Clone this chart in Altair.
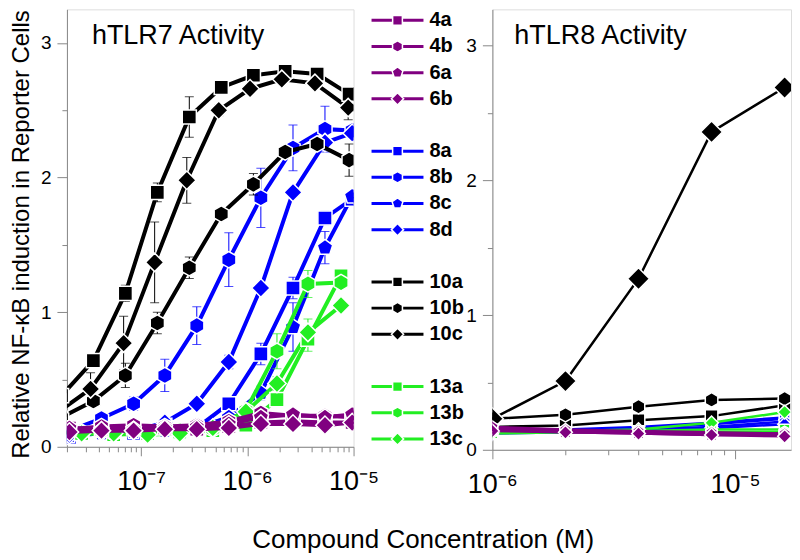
import altair as alt
import pandas as pd

# ---------------- data ----------------
SERIES = ["4a", "4b", "6a", "6b", "8a", "8b", "8c", "8d",
          "10a", "10b", "10c", "13a", "13b", "13c"]
GROUP_OF = {"4a": "purple", "4b": "purple", "6a": "purple", "6b": "purple",
            "8a": "blue", "8b": "blue", "8c": "blue", "8d": "blue",
            "10a": "black", "10b": "black", "10c": "black",
            "13a": "green", "13b": "green", "13c": "green"}
LEGEND_SLOT = [0, 1, 2, 3, 5, 6, 7, 8, 10, 11, 12, 14, 15, 16]

# concentrations (M) of the hTLR7 dilution series
conc_black = [1.78e-8, 3.55e-8, 7.1e-8, 1.42e-7, 2.84e-7, 5.68e-7, 1.14e-6, 2.27e-6, 4.54e-6, 9.08e-6]
conc_10c = [1.67e-8, 3.34e-8, 6.84e-8, 1.34e-7, 2.69e-7, 5.38e-7, 1.06e-6, 2.11e-6, 4.33e-6, 8.9e-6]
conc_blue = [2.11e-8, 4.23e-8, 8.49e-8, 1.67e-7, 3.34e-7, 6.69e-7, 1.34e-6, 2.69e-6, 5.38e-6, 9.7e-6]
conc_green = [1.37e-8, 2.75e-8, 5.51e-8, 1.15e-7, 2.31e-7, 4.73e-7, 9.68e-7, 1.90e-6, 3.72e-6, 7.62e-6]
conc_tlr8 = [1e-6, 2e-6, 4e-6, 8e-6, 1.6e-5]

tlr7_4a = [0.14, 0.13, 0.14, 0.14, 0.13, 0.15, 0.18, 0.19, 0.18, 0.18]
tlr7_4b = [0.13, 0.15, 0.16, 0.15, 0.16, 0.19, 0.25, 0.23, 0.23, 0.22]
tlr7_6a = [0.14, 0.12, 0.13, 0.14, 0.15, 0.17, 0.22, 0.24, 0.22, 0.24]
tlr7_6b = [0.11, 0.12, 0.12, 0.13, 0.13, 0.14, 0.17, 0.17, 0.16, 0.18]
tlr7_8a = [0.07, 0.13, 0.10, 0.16, 0.14, 0.32, 0.69, 1.18, 1.70, 1.84]
tlr7_8b = [0.12, 0.21, 0.32, 0.53, 0.90, 1.39, 1.85, 2.22, 2.36, 2.35]
tlr7_8c = [0.08, 0.10, 0.11, 0.12, 0.14, 0.22, 0.40, 0.89, 1.48, 1.86]
tlr7_8d = [0.09, 0.11, 0.12, 0.18, 0.32, 0.63, 1.18, 1.89, 2.26, 2.33]
tlr7_10a = [0.38, 0.64, 1.14, 1.89, 2.45, 2.67, 2.76, 2.79, 2.77, 2.62]
tlr7_10b = [0.22, 0.34, 0.53, 0.92, 1.33, 1.73, 1.95, 2.19, 2.25, 2.13]
tlr7_10c = [0.26, 0.43, 0.77, 1.37, 1.98, 2.50, 2.66, 2.73, 2.70, 2.52]
tlr7_13a = [0.10, 0.10, 0.09, 0.10, 0.11, 0.12, 0.16, 0.35, 0.80, 1.27]
tlr7_13b = [0.11, 0.11, 0.10, 0.11, 0.12, 0.13, 0.27, 0.71, 1.21, 1.22]
tlr7_13c = [0.10, 0.10, 0.10, 0.09, 0.10, 0.14, 0.26, 0.47, 0.85, 1.05]

err_none = [0, 0, 0, 0, 0, 0, 0, 0, 0, 0]
err_8a = [0, 0, 0, 0, 0, 0.03, 0.08, 0.08, 0.05, 0]
err_8b = [0, 0.04, 0.05, 0.12, 0.14, 0.20, 0.22, 0.17, 0.17, 0]
err_8c = [0, 0, 0, 0, 0, 0, 0.05, 0.18, 0.12, 0]
err_8d = [0, 0, 0, 0.02, 0.03, 0.05, 0.03, 0, 0, 0]
err_10a = [0, 0.02, 0.06, 0.07, 0.15, 0.03, 0.02, 0.02, 0.02, 0]
err_10b = [0, 0.03, 0.09, 0.08, 0.08, 0.03, 0.08, 0.02, 0, 0.12]
err_10c = [0, 0.12, 0.20, 0.30, 0.17, 0.04, 0.03, 0.02, 0.02, 0.09]
err_13a = [0, 0, 0, 0, 0, 0, 0, 0.04, 0.09, 0.05]
err_13b = [0, 0, 0, 0, 0, 0, 0, 0.13, 0.10, 0.04]
err_13c = [0, 0, 0, 0, 0, 0, 0, 0.05, 0.10, 0]

tlr8_4a = [0.15, 0.13, 0.12, 0.11, 0.11]
tlr8_4b = [0.16, 0.14, 0.13, 0.12, 0.12]
tlr8_6a = [0.17, 0.15, 0.14, 0.13, 0.12]
tlr8_6b = [0.14, 0.13, 0.12, 0.11, 0.10]
tlr8_8a = [0.13, 0.14, 0.16, 0.19, 0.23]
tlr8_8b = [0.14, 0.15, 0.17, 0.20, 0.24]
tlr8_8c = [0.13, 0.14, 0.15, 0.17, 0.21]
tlr8_8d = [0.12, 0.13, 0.14, 0.16, 0.19]
tlr8_10a = [0.17, 0.18, 0.22, 0.25, 0.33]
tlr8_10b = [0.23, 0.26, 0.32, 0.37, 0.38]
tlr8_10c = [0.23, 0.51, 1.27, 2.36, 2.69]
tlr8_13a = [0.12, 0.13, 0.14, 0.15, 0.15]
tlr8_13b = [0.13, 0.14, 0.14, 0.13, 0.13]
tlr8_13c = [0.13, 0.14, 0.15, 0.20, 0.28]

left_x_ticks = [2e-8, 3e-8, 4e-8, 5e-8, 6e-8, 7e-8, 8e-8, 9e-8,
                1e-7, 2e-7, 3e-7, 4e-7, 5e-7, 6e-7, 7e-7, 8e-7, 9e-7,
                1e-6, 2e-6, 3e-6, 4e-6, 5e-6, 6e-6, 7e-6, 8e-6, 9e-6, 1e-5]
right_x_ticks = [1e-6, 2e-6, 3e-6, 4e-6, 5e-6, 6e-6, 7e-6, 8e-6, 9e-6, 1e-5]
y_ticks = [0, 0.5, 1, 1.5, 2, 2.5, 3]

TLR7 = {"4a": tlr7_4a, "4b": tlr7_4b, "6a": tlr7_6a, "6b": tlr7_6b,
        "8a": tlr7_8a, "8b": tlr7_8b, "8c": tlr7_8c, "8d": tlr7_8d,
        "10a": tlr7_10a, "10b": tlr7_10b, "10c": tlr7_10c,
        "13a": tlr7_13a, "13b": tlr7_13b, "13c": tlr7_13c}
TLR7_ERR = {"4a": err_none, "4b": err_none, "6a": err_none, "6b": err_none,
            "8a": err_8a, "8b": err_8b, "8c": err_8c, "8d": err_8d,
            "10a": err_10a, "10b": err_10b, "10c": err_10c,
            "13a": err_13a, "13b": err_13b, "13c": err_13c}
TLR7_CONC = {"purple": conc_blue, "blue": conc_blue, "black": conc_black, "green": conc_green}
TLR8 = {"4a": tlr8_4a, "4b": tlr8_4b, "6a": tlr8_6a, "6b": tlr8_6b,
        "8a": tlr8_8a, "8b": tlr8_8b, "8c": tlr8_8c, "8d": tlr8_8d,
        "10a": tlr8_10a, "10b": tlr8_10b, "10c": tlr8_10c,
        "13a": tlr8_13a, "13b": tlr8_13b, "13c": tlr8_13c}

# ---------------- style ----------------
COLOR = {"purple": "#800080", "blue": "#0000ff", "black": "#000000", "green": "#22ee22"}
HEX = "M0,-1L0.866,-0.5L0.866,0.5L0,1L-0.866,0.5L-0.866,-0.5Z"
PENT = "M0,-1L0.951,-0.309L0.588,0.809L-0.588,0.809L-0.951,-0.309Z"
SHAPE = {"4a": "square", "4b": HEX, "6a": PENT, "6b": "diamond",
         "8a": "square", "8b": HEX, "8c": PENT, "8d": "diamond",
         "10a": "square", "10b": HEX, "10c": "diamond",
         "13a": "square", "13b": HEX, "13c": "diamond"}
SIZE_LEFT = {"square": 200, HEX: 270, PENT: 270, "diamond": 340}
SIZE_RIGHT = {"square": 110, HEX: 150, PENT: 150, "diamond": 190}
SIZE_RIGHT_BLACK = {"square": 160, HEX: 210, "diamond": 480}
SIZE_LEG = {"square": 95, HEX: 130, PENT: 130, "diamond": 150}
GROUP_ORDER = ["blue", "black", "green", "purple"]

FONT = "'Liberation Sans', Arial, sans-serif"
NARROW = "'Liberation Sans Narrow', 'Liberation Sans', Arial, sans-serif"
SUP = "['\u2070','\u00b9','\u00b2','\u00b3','\u2074','\u2075','\u2076','\u2077','\u2078','\u2079']"
MAJOR_X = "abs(log(datum.value)/LN10 - round(log(datum.value)/LN10)) < 0.001"
LABEL_X = "(" + MAJOR_X + ") ? '10\u207b' + " + SUP + "[-round(log(datum.value)/LN10)] : ''"
MAJOR_Y = "datum.value % 1 == 0"

# ---------------- tables ----------------
rows7 = []
for s in SERIES:
    g = GROUP_OF[s]
    concs = conc_10c if s == "10c" else TLR7_CONC[g]
    for x, y, e in zip(concs, TLR7[s], TLR7_ERR[s]):
        rows7.append(dict(series=s, grp=g, x=x, y=y, lo=y - e, hi=y + e, err=e,
                          col=COLOR[g], shp=SHAPE[s], sz=SIZE_LEFT[SHAPE[s]]))
df7 = pd.DataFrame(rows7)

rows8 = []
for s in SERIES:
    g = GROUP_OF[s]
    sz = SIZE_RIGHT_BLACK[SHAPE[s]] if g == "black" else SIZE_RIGHT[SHAPE[s]]
    for x, y in zip(conc_tlr8, TLR8[s]):
        rows8.append(dict(series=s, grp=g, x=x, y=y, col=COLOR[g], shp=SHAPE[s], sz=sz))
df8 = pd.DataFrame(rows8)

leg = pd.DataFrame(dict(series=SERIES, slot=LEGEND_SLOT,
                        col=[COLOR[GROUP_OF[s]] for s in SERIES],
                        shp=[SHAPE[s] for s in SERIES],
                        sz=[SIZE_LEG[SHAPE[s]] for s in SERIES]))


def x_axis(vals):
    return alt.Axis(values=vals, labelExpr=LABEL_X, labelOverlap=False, labelFlush=False,
                    tickSize={"condition": {"test": MAJOR_X, "value": 9}, "value": 5},
                    labelFont=NARROW, labelFontSize=27, labelPadding=13, grid=False)


def y_axis(title, h):
    kw = dict(values=y_ticks, labelExpr="(" + MAJOR_Y + ") ? format(datum.value, 'd') : ''",
              tickSize={"condition": {"test": MAJOR_Y, "value": 10}, "value": 5},
              labelFont=FONT, labelFontSize=19, labelPadding=6, labelOverlap=False, grid=False)
    if title:
        kw.update(title=title, titleFont=FONT, titleFontSize=24, titleFontWeight="normal",
                  titlePadding=7, titleColor="black", titleY=h / 2 + 6)
    return alt.Axis(**kw)


def panel(df, xdom, xticks, ydom, title, ytitle, lw, with_err, w, h, tx):
    X = lambda f: alt.X(f, scale=alt.Scale(type="log", domain=xdom, nice=False), axis=x_axis(xticks), title=None)
    Y = lambda f: alt.Y(f, scale=alt.Scale(domain=ydom, nice=False, zero=False), axis=y_axis(ytitle, h),
                        title=ytitle if ytitle else None)
    layers = []
    for g in GROUP_ORDER:
        base = alt.Chart(df).transform_filter(alt.datum.grp == g)
        if with_err:
            eb = base.transform_filter(alt.datum.err > 0)
            layers.append(eb.mark_rule(strokeWidth=1, clip=True).encode(
                x=X("x:Q"), y=Y("lo:Q"), y2="hi:Q", color=alt.Color("col:N", scale=None)))
            layers.append(eb.transform_fold(["lo", "hi"], as_=["k", "v"]).mark_tick(
                orient="horizontal", size=9, thickness=1, clip=True).encode(
                x=X("x:Q"), y=Y("v:Q"), color=alt.Color("col:N", scale=None)))
        layers.append(base.mark_line(strokeWidth=lw, clip=True).encode(
            x=X("x:Q"), y=Y("y:Q"), detail="series:N", color=alt.Color("col:N", scale=None)))
        layers.append(base.mark_point(filled=True, opacity=1, stroke="white", strokeWidth=1.5,
                                      clip=True).encode(
            x=X("x:Q"), y=Y("y:Q"), fill=alt.Fill("col:N", scale=None),
            shape=alt.Shape("shp:N", scale=None), size=alt.Size("sz:Q", scale=None)))
    layers.append(alt.Chart(pd.DataFrame({"t": [title]})).mark_text(
        align="left", baseline="alphabetic", fontSize=27, font=FONT, color="black").encode(
        text="t:N", x=alt.value(tx), y=alt.value(35)))
    return alt.layer(*layers).properties(width=w, height=h)


left = panel(df7, [2e-8, 1e-5], left_x_ticks, [0, 3.25], "hTLR7 Activity",
             "Relative NF-\u03baB induction in Reporter Cells", 4, True, 287, 438, 25)
right = panel(df8, [1e-6, 1.7e-5], right_x_ticks, [0, 3.27], "hTLR8 Activity",
              "", 2.5, False, 299, 441, 22)

lbase = alt.Chart(leg).encode(
    y=alt.Y("slot:Q", scale=alt.Scale(domain=[-0.42, 16.3], reverse=True, nice=False, zero=False), axis=None))
legend = alt.layer(
    lbase.mark_rule(strokeWidth=3).encode(x=alt.value(18), x2=alt.value(70), color=alt.Color("col:N", scale=None)),
    lbase.mark_point(filled=True, opacity=1, stroke="white", strokeWidth=1.5).encode(
        x=alt.value(44), fill=alt.Fill("col:N", scale=None),
        shape=alt.Shape("shp:N", scale=None), size=alt.Size("sz:Q", scale=None)),
    lbase.mark_text(align="left", baseline="middle", fontSize=20, fontWeight="bold",
                    font=FONT, color="black").encode(x=alt.value(76), text="series:N"),
).properties(width=139, height=438, view=alt.ViewBackground(stroke="transparent"))

chart = alt.hconcat(left, legend, right, spacing=0, bounds="flush").properties(
    padding={"left": 0, "top": 0, "right": 0, "bottom": 0},
    title=alt.TitleParams("Compound Concentration (M)", orient="bottom", anchor="middle",
                          fontSize=26, font=FONT, fontWeight="normal", dx=23, offset=29, color="black"),
).configure_view(stroke="black", strokeWidth=1.5).configure_axis(
    domainColor="black", domainWidth=1.5, tickColor="black", tickWidth=1.5, labelColor="black"
).configure(font=FONT, background="white")

chart.save("out.html", embed_options={"renderer": "svg", "actions": False})
